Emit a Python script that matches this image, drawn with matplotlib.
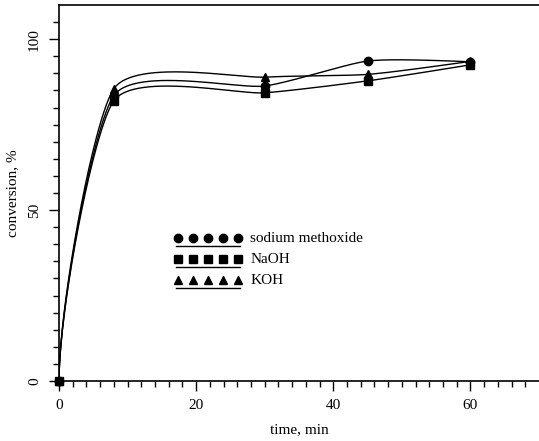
import numpy as np
import matplotlib.pyplot as plt

# reaction time [min] and conversion [%]
time_min = [0, 8, 30, 45, 60]
methoxide = [0, 83.5, 86.3, 93.6, 93.4]
naoh = [0, 82.0, 84.3, 87.8, 92.5]
koh = [0, 85.5, 88.9, 89.7, 93.5]
series_labels = ["sodium methoxide", "NaOH", "KOH"]
series_markers = ["o", "s", "^"]

XMAX, YMAX = 70, 110


def smooth_curve(x, y, tension=0.4, n=60):
    # parametric cardinal spline drawn in screen proportions (old plotting-program look)
    sx, sy = 480 / XMAX, 376 / YMAX
    p = np.column_stack([np.asarray(x, float) * sx, np.asarray(y, float) * sy])
    k = len(p)
    m = np.zeros_like(p)
    for i in range(1, k - 1):
        m[i] = (1 - tension) * (p[i + 1] - p[i - 1]) / 2
    m[0] = [0, 0.75 * np.linalg.norm(p[1] - p[0])]    # starts off vertical
    m[-1] = (3 * (p[-1] - p[-2]) - m[-2]) / 2          # natural end
    t = np.linspace(0, 1, n)
    h00 = 2 * t**3 - 3 * t**2 + 1
    h10 = t**3 - 2 * t**2 + t
    h01 = -2 * t**3 + 3 * t**2
    h11 = t**3 - t**2
    pts = []
    for i in range(k - 1):
        seg = (np.outer(h00, p[i]) + np.outer(h10, m[i])
               + np.outer(h01, p[i + 1]) + np.outer(h11, m[i + 1]))
        pts.append(seg)
    pts = np.vstack(pts)
    return pts[:, 0] / sx, pts[:, 1] / sy


plt.rcParams['font.family'] = ['Liberation Serif', 'DejaVu Serif']

fig = plt.figure(figsize=(5.39, 4.41), dpi=100)
ax = fig.add_axes([59 / 539, 60 / 441, 480 / 539, 376 / 441])

for vals, mk in zip([methoxide, naoh, koh], series_markers):
    xs, ys = smooth_curve(time_min, vals)
    ax.plot(xs, ys, color="black", lw=1.0)
    ax.plot(time_min, vals, ls="none", marker=mk, color="black", ms=6, clip_on=False)

ax.set_xlim(0, XMAX)
ax.set_ylim(0, YMAX)
ax.spines["right"].set_visible(False)
for s in ax.spines.values():
    s.set_linewidth(1.2)

ax.set_xticks([0, 20, 40, 60])
ax.set_xticks(np.arange(0, 70, 2), minor=True)
ax.set_yticks([0, 50, 100])
ax.set_yticks(np.arange(0, 110, 5), minor=True)
ax.tick_params(which="major", direction="out", length=7, width=1, labelsize=11, pad=6)
ax.tick_params(which="minor", direction="out", length=4, width=1)
ax.tick_params(top=False, which="both")
for lab in ax.get_yticklabels():
    lab.set_rotation(90)
    lab.set_va("center")

ax.set_xlabel("time, min", fontsize=11, labelpad=8)
ax.set_ylabel("conversion, %", fontsize=11, labelpad=6)

# hand-drawn style legend: five markers over a rule, then the label
for row, (lab, mk) in enumerate(zip(series_labels, series_markers)):
    yy = 0.380 - row * 0.056
    ax.plot(np.linspace(0.248, 0.373, 5), [yy] * 5, ls="none", marker=mk,
            color="black", ms=6, transform=ax.transAxes, clip_on=False)
    ax.plot([0.244, 0.378], [yy - 0.021] * 2, color="black", lw=1.0,
            transform=ax.transAxes)
    ax.text(0.398, yy, lab, fontsize=11, va="center", transform=ax.transAxes)

fig.savefig("out.png", dpi=100)
